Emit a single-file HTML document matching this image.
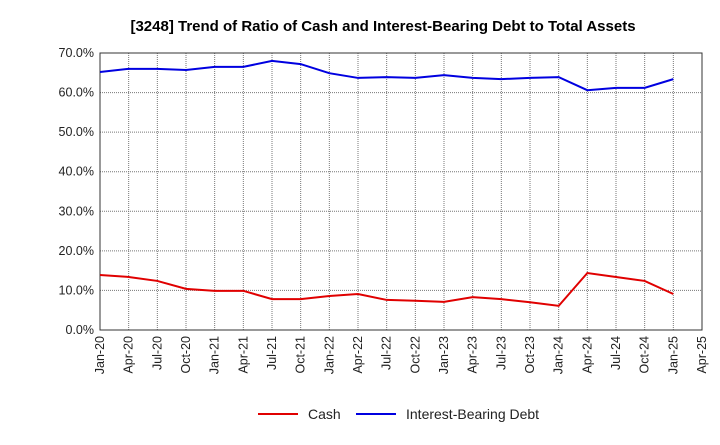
<!DOCTYPE html>
<html><head><meta charset="utf-8"><style>
body{margin:0;background:#fff;font-family:"Liberation Sans",sans-serif}
</style></head><body>
<svg id="c" width="720" height="440" xmlns="http://www.w3.org/2000/svg">
<text x="383" y="31" text-anchor="middle" font-size="15" font-weight="bold" fill="#000">[3248]  Trend of Ratio of Cash and Interest-Bearing Debt to Total Assets</text>
</svg>
<script>
const xLabels=["Jan-20","Apr-20","Jul-20","Oct-20","Jan-21","Apr-21","Jul-21","Oct-21","Jan-22","Apr-22","Jul-22","Oct-22","Jan-23","Apr-23","Jul-23","Oct-23","Jan-24","Apr-24","Jul-24","Oct-24","Jan-25","Apr-25"];
const yTicks=[0,10,20,30,40,50,60,70];
const cash=[13.9,13.4,12.4,10.4,9.9,9.9,7.8,7.8,8.6,9.1,7.6,7.4,7.1,8.3,7.8,7.0,6.1,14.4,13.4,12.4,9.1];
const debt=[65.2,66.0,66.0,65.7,66.5,66.5,68.0,67.2,64.9,63.7,63.9,63.7,64.4,63.7,63.4,63.7,63.9,60.6,61.2,61.2,63.4];
const svg=document.getElementById('c');const NS="http://www.w3.org/2000/svg";
const L=100,R=702,T=53,B=330;
const xs=i=>L+i*(R-L)/(xLabels.length-1);
const ys=v=>B-v*(B-T)/70;
function mk(t,a){const e=document.createElementNS(NS,t);for(const k in a)e.setAttribute(k,a[k]);svg.appendChild(e);return e;}
const bg=mk('rect',{x:L,y:T,width:R-L,height:B-T,fill:'#fff',stroke:'#333'});


yTicks.forEach(v=>{
 const g=mk('line',{x1:L,x2:R,y1:ys(v),y2:ys(v),stroke:'#777','stroke-dasharray':'1,1'});
 
 
 const t=mk('text',{x:L-6,y:ys(v)+4,'text-anchor':'end','font-size':12.5,fill:'#222'});t.textContent=v.toFixed(1)+'%';
 
 
});
xLabels.forEach((s,i)=>{
 const g=mk('line',{x1:xs(i),x2:xs(i),y1:T,y2:B,stroke:'#777','stroke-dasharray':'1,1'});
 
 
 const t=mk('text',{x:xs(i)+4,y:B+6,'text-anchor':'end','font-size':12.5,fill:'#222',transform:`rotate(-90 ${xs(i)+4} ${B+6})`});t.textContent=s;
 
 
});
mk('rect',{x:L,y:T,width:R-L,height:B-T,fill:'none',stroke:'#333'});
function line(d,c,n){const p=mk('polyline',{points:d.map((v,i)=>xs(i)+','+ys(v)).join(' '),fill:'none',stroke:c,'stroke-width':2});
 
 }
line(cash,'#e00000','cash-line');line(debt,'#0000e0','debt-line');
function leg(x,c,s,n){const l=mk('line',{x1:x,x2:x+40,y1:414,y2:414,stroke:c,'stroke-width':2});
 
 
 const t=mk('text',{x:x+50,y:419,'font-size':14,fill:'#222'});t.textContent=s;
 
 }
leg(258,'#e00000','Cash','legend-cash');leg(356,'#0000e0','Interest-Bearing Debt','legend-debt');
</script>
</body></html>
